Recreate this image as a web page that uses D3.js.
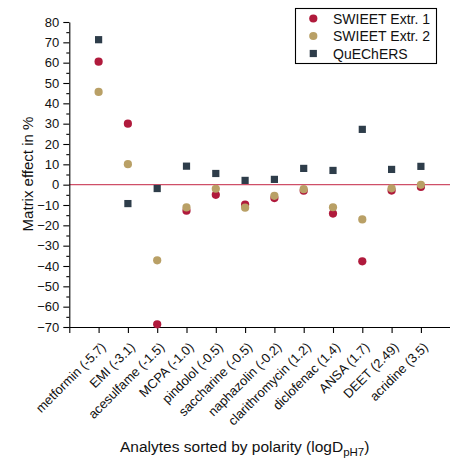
<!DOCTYPE html>
<html>
<head>
<meta charset="utf-8">
<script src="https://cdn.jsdelivr.net/npm/d3@7"></script>
<style>
  body { margin: 0; background: #fff; }
  svg { display: block; font-family: "Liberation Sans", Arial, sans-serif; }
</style>
</head>
<body>
<div id="chart"></div>
<script>
// analytes, sorted by polarity
var categories = ["metformin (-5.7)", "EMI (-3.1)", "acesulfame (-1.5)", "MCPA (-1.0)", "pindolol (-0.5)",
                  "saccharine (-0.5)", "naphazolin (-0.2)", "clarithromycin (1.2)", "diclofenac (1.4)",
                  "ANSA (1.7)", "DEET (2.49)", "acridine (3.5)"];
var swieet1  = [60.5, 30.0, -68.7, -12.8, -5.0, -9.8, -6.6, -3.0, -14.2, -37.7, -2.9, -1.1];
var swieet2  = [45.6, 10.1, -37.2, -11.2, -2.0, -11.3, -5.5, -2.2, -11.1, -17.1, -1.8, -0.1];
var quechers = [71.3, -9.3, -1.9, 9.1, 5.5, 2.1, 2.6, 8.0, 7.0, 27.2, 7.5, 9.0];
var yTicks = d3.range(-70, 81, 10);

var width = 450, height = 459;
var margin = {left: 69.3, top: 22, bottom: 327};

var svg = d3.select("#chart").append("svg")
    .attr("width", width)
    .attr("height", height);

var x = d3.scaleLinear().domain([0, categories.length + 1]).range([margin.left, 450.2]);
var y = d3.scaleLinear().domain([-70, 80]).range([margin.bottom, margin.top]);

// zero line
svg.append("line")
    .attr("x1", x(0)).attr("x2", x(13))
    .attr("y1", y(0)).attr("y2", y(0))
    .attr("stroke", "#cf4f68")
    .attr("stroke-width", 1.2);

// y axis with minor ticks
var yAxis = svg.append("g")
    .attr("transform", "translate(" + margin.left + ",0)")
    .call(d3.axisLeft(y).tickValues(yTicks).tickSize(6).tickSizeOuter(0).tickPadding(4));
svg.append("g")
    .attr("transform", "translate(" + margin.left + ",0)")
    .call(d3.axisLeft(y).tickValues(d3.range(-65, 80, 10)).tickSize(3).tickSizeOuter(0).tickFormat(""))
    .select(".domain").remove();
yAxis.selectAll("text").attr("font-size", 13).attr("fill", "#111");

// x axis
svg.append("g")
    .attr("transform", "translate(0," + margin.bottom + ")")
    .call(d3.axisBottom(x).tickValues(d3.range(0, 14)).tickSize(6).tickSizeOuter(0).tickFormat(""));

svg.selectAll("path.domain, .tick line").attr("stroke", "#000").attr("stroke-width", 1.1);

// category labels
svg.selectAll("text.cat")
    .data(categories)
    .enter()
    .append("text")
    .attr("class", "cat")
    .attr("transform", (d, i) => "translate(" + (x(i + 1) + 8) + ",348) rotate(-45)")
    .attr("text-anchor", "end")
    .attr("font-size", 13)
    .attr("fill", "#111")
    .text(d => d);

// points
function dots(values, color) {
    svg.append("g").selectAll("circle")
        .data(values)
        .enter()
        .append("circle")
        .attr("cx", (d, i) => x(i + 1))
        .attr("cy", d => y(d))
        .attr("r", 4.1)
        .attr("fill", color);
}
dots(swieet1, "#b01a3c");
dots(swieet2, "#b9a066");

svg.append("g").selectAll("rect")
    .data(quechers)
    .enter()
    .append("rect")
    .attr("x", (d, i) => x(i + 1) - 3.6)
    .attr("y", d => y(d) - 3.6)
    .attr("width", 7.2)
    .attr("height", 7.2)
    .attr("fill", "#2e3d4a");

// axis titles
svg.append("text")
    .attr("transform", "translate(33,174) rotate(-90)")
    .attr("text-anchor", "middle")
    .attr("font-size", 15)
    .attr("fill", "#111")
    .text("Matrix effect in %");

var xt = svg.append("text")
    .attr("x", 120).attr("y", 452)
    .attr("font-size", 15.5)
    .attr("fill", "#111");
xt.append("tspan").text("Analytes sorted by polarity (logD");
xt.append("tspan").attr("font-size", 11.5).attr("dy", 4).text("pH7");
xt.append("tspan").attr("dy", -4).text(")");

// legend
var legend = svg.append("g");
legend.append("rect")
    .attr("x", 295.5).attr("y", 8.5)
    .attr("width", 141).attr("height", 55)
    .attr("fill", "#fff")
    .attr("stroke", "#000")
    .attr("stroke-width", 1.1);
var items = [
    {name: "SWIEET Extr. 1", color: "#b01a3c", shape: "circle"},
    {name: "SWIEET Extr. 2", color: "#b9a066", shape: "circle"},
    {name: "QuEChERS", color: "#2e3d4a", shape: "square"}
];
items.forEach(function(it, i) {
    var cy = 18.5 + i * 17.5;
    if (it.shape == "circle") {
        legend.append("circle").attr("cx", 313.3).attr("cy", cy).attr("r", 4.1).attr("fill", it.color);
    } else {
        legend.append("rect").attr("x", 309.7).attr("y", cy - 3.6).attr("width", 7.2).attr("height", 7.2).attr("fill", it.color);
    }
    legend.append("text")
        .attr("x", 333).attr("y", cy + 5)
        .attr("font-size", 14)
        .attr("fill", "#111")
        .text(it.name);
});
</script>
</body>
</html>
